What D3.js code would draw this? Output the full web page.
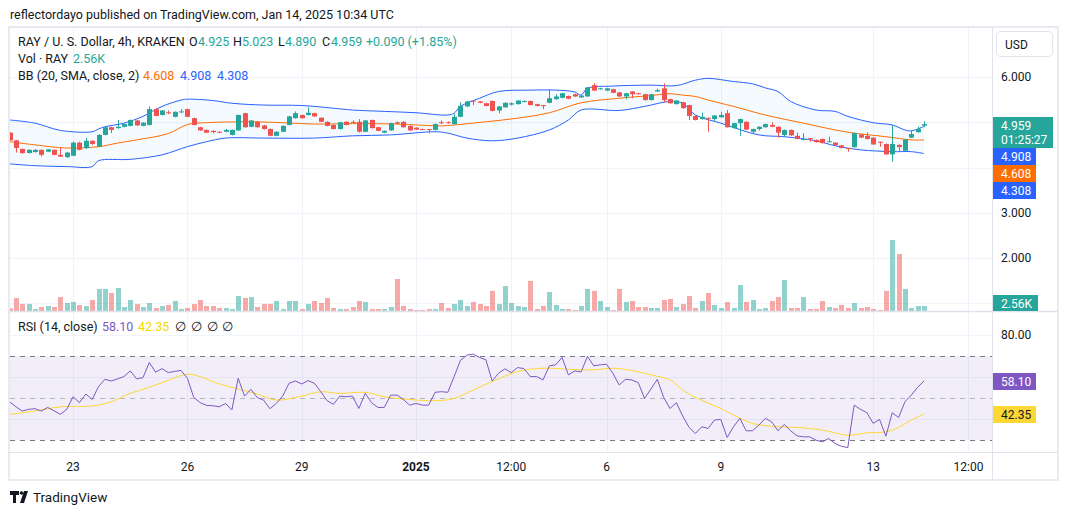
<!DOCTYPE html>
<html>
<head>
<meta charset="utf-8">
<script src="https://cdn.jsdelivr.net/npm/d3@7"></script>
<style>
  body { margin: 0; background: #fff; }
  svg { display: block; font-family: Roboto, "Noto Sans", sans-serif; }
</style>
</head>
<body>
<svg id="chart" width="1068" height="515"></svg>
<script>
// RAY / USD, 4h candles from Dec 21 08:00 UTC to Jan 14 08:00 UTC
var startTime = Date.UTC(2024, 11, 21, 8);

var opens  = [4.77,4.60,4.41,4.32,4.34,4.39,4.35,4.39,4.28,4.23,4.26,4.55,4.43,4.59,4.46,4.72,4.89,4.87,4.90,4.92,
              5.04,4.92,4.94,5.29,5.16,5.22,5.12,5.22,5.29,5.09,4.89,4.83,4.81,4.79,4.79,4.72,4.82,5.20,4.90,5.01,
              4.93,4.85,4.70,4.79,4.94,5.09,5.16,5.16,5.20,5.10,5.01,4.94,4.85,5.01,5.01,5.01,4.79,5.05,4.89,4.77,
              4.82,5.00,5.01,4.92,4.88,4.85,4.85,4.83,5.00,5.00,4.96,5.12,5.35,5.48,5.46,5.42,5.47,5.26,5.33,5.39,
              5.40,5.45,5.47,5.40,5.38,5.43,5.51,5.54,5.58,5.62,5.55,5.57,5.82,5.73,5.70,5.73,5.66,5.57,5.68,5.64,
              5.62,5.49,5.68,5.75,5.51,5.40,5.44,5.38,5.14,5.07,5.10,5.07,5.11,5.20,4.87,4.98,5.01,4.79,4.85,4.89,
              4.94,4.90,4.72,4.83,4.70,4.61,4.65,4.61,4.63,4.57,4.55,4.49,4.43,4.45,4.73,4.70,4.66,4.57,4.52,4.29,
              4.50,4.37,4.66,4.78,4.925];
var highs  = [4.78,4.61,4.42,4.40,4.41,4.40,4.41,4.40,4.45,4.34,4.57,4.57,4.65,4.60,4.74,4.91,4.90,5.05,4.97,5.06,
              5.05,5.00,5.35,5.31,5.27,5.26,5.24,5.29,5.30,5.10,4.90,4.84,4.82,4.80,4.85,4.84,5.17,5.21,5.05,5.02,
              4.94,4.86,4.80,4.93,5.14,5.24,5.17,5.33,5.21,5.11,5.02,4.95,5.01,5.02,5.04,5.07,5.05,5.06,4.90,4.82,
              4.99,5.02,5.02,4.93,4.89,4.86,4.85,4.97,5.04,5.02,5.18,5.44,5.47,5.49,5.47,5.43,5.48,5.36,5.44,5.44,
              5.49,5.48,5.48,5.41,5.38,5.73,5.62,5.65,5.59,5.63,5.60,5.78,5.86,5.76,5.76,5.74,5.67,5.65,5.69,5.65,
              5.63,5.63,5.74,5.86,5.52,5.49,5.45,5.39,5.15,5.21,5.10,5.16,5.23,5.27,4.99,5.08,5.02,4.86,4.91,4.97,
              5.00,4.91,4.84,4.84,4.77,4.76,4.65,4.62,4.64,4.68,4.56,4.50,4.43,4.77,4.74,4.78,4.67,4.57,4.53,4.94,
              4.51,4.63,4.82,4.90,5.023];
var lows   = [4.59,4.33,4.30,4.31,4.33,4.24,4.34,4.27,4.23,4.21,4.25,4.38,4.41,4.50,4.45,4.71,4.76,4.86,4.89,4.91,
              4.92,4.91,4.93,5.13,5.15,5.18,5.11,5.20,5.11,4.93,4.81,4.76,4.76,4.76,4.78,4.71,4.81,4.88,4.89,4.88,
              4.84,4.69,4.69,4.78,4.93,5.08,5.08,5.15,5.12,5.00,4.91,4.84,4.84,4.93,4.97,4.77,4.78,4.86,4.80,4.76,
              4.81,4.95,4.88,4.81,4.83,4.83,4.76,4.82,4.96,4.97,4.95,5.11,5.34,5.38,5.42,5.35,5.24,5.20,5.32,5.37,
              5.39,5.44,5.37,5.35,5.29,5.42,5.50,5.53,5.51,5.56,5.54,5.56,5.69,5.72,5.69,5.64,5.56,5.51,5.53,5.61,
              5.48,5.48,5.67,5.44,5.41,5.39,5.30,5.05,5.04,5.06,4.79,5.01,5.10,4.88,4.86,4.70,4.83,4.76,4.82,4.88,
              4.89,4.66,4.68,4.70,4.62,4.60,4.57,4.55,4.53,4.57,4.48,4.42,4.35,4.44,4.65,4.62,4.50,4.46,4.28,4.13,
              4.35,4.36,4.65,4.77,4.890];
var closes = [4.60,4.43,4.32,4.39,4.39,4.28,4.40,4.28,4.24,4.33,4.55,4.39,4.59,4.52,4.72,4.89,4.83,4.90,4.96,5.05,
              4.93,4.99,5.29,5.14,5.26,5.20,5.23,5.24,5.12,4.94,4.82,4.77,4.78,4.77,4.83,4.83,5.16,4.89,5.04,4.89,
              4.85,4.70,4.79,4.92,5.13,5.20,5.09,5.21,5.13,5.01,4.92,4.85,5.00,4.94,4.99,4.79,5.04,4.87,4.81,4.81,
              4.98,4.97,4.89,4.82,4.84,4.84,4.84,4.96,4.98,4.99,5.12,5.36,5.46,5.46,5.43,5.36,5.25,5.35,5.43,5.42,
              5.48,5.47,5.38,5.36,5.37,5.53,5.57,5.64,5.52,5.57,5.59,5.77,5.70,5.75,5.75,5.65,5.57,5.64,5.62,5.62,
              5.49,5.62,5.71,5.49,5.42,5.48,5.31,5.14,5.05,5.12,5.09,5.15,5.16,4.89,4.98,5.07,4.84,4.85,4.90,4.96,
              4.90,4.77,4.83,4.71,4.63,4.63,4.64,4.56,4.54,4.58,4.49,4.43,4.42,4.76,4.66,4.63,4.51,4.56,4.29,4.52,
              4.45,4.62,4.74,4.85,4.959];

// volume in thousands of RAY
var volumes = [1.37,6.67,3.59,3.59,1.03,2.05,2.57,2.05,7.18,4.10,4.62,3.08,2.57,5.64,11.3,11.3,9.23,11.8,2.05,5.64,
               3.59,2.05,4.10,1.54,2.57,3.08,5.13,1.03,1.54,3.59,5.64,2.57,2.57,1.54,1.54,1.03,7.70,6.67,7.18,2.05,
               3.59,3.59,5.13,1.03,5.13,5.13,1.03,3.59,5.13,4.10,6.67,1.54,1.03,1.03,2.05,5.13,4.62,1.03,1.03,1.03,
               2.05,16.4,2.57,1.03,0.51,0.51,1.03,1.03,4.10,1.54,3.59,5.64,2.57,4.62,3.59,2.57,10.3,3.59,12.8,4.10,
               2.57,2.05,15.4,1.03,2.57,9.75,3.08,1.03,1.03,0.51,2.57,11.3,10.3,5.13,2.05,0.51,11.3,4.62,5.13,2.05,
               2.05,1.54,1.54,5.64,6.16,2.05,3.59,7.70,1.54,5.13,9.23,3.08,1.54,4.62,1.54,13.3,4.62,5.64,1.03,1.54,
               5.13,7.18,15.9,1.54,1.54,7.18,1.03,1.03,5.13,2.05,1.54,3.08,1.54,4.10,1.54,2.05,1.03,0.51,10.3,36.4,
               29.2,11.3,1.54,2.57,2.56];

// Bollinger bands (20, 2), read at candle indices
var bbUpperAt = [0,4,8,13,14,15,18,21,24,27,28,32,35,40,46,51,54,59,64,69,70,71,74,77,82,86,89,90,91,95,101,105,108,110,114,117,119,121,123,127,130,132,136,139,141,142,144];
var bbUpper   = [5.05,4.98,4.82,4.79,4.85,4.90,4.98,5.13,5.35,5.49,5.51,5.48,5.42,5.38,5.37,5.31,5.27,5.24,5.21,5.16,5.20,5.35,5.53,5.68,5.71,5.71,5.67,5.60,5.75,5.80,5.82,5.81,5.93,5.97,5.90,5.85,5.76,5.68,5.46,5.27,5.24,5.13,4.99,4.94,4.83,4.81,4.908];
var bbMidAt   = [0,4,9,14,17,20,25,28,31,38,43,48,54,61,68,70,75,80,85,90,96,101,104,106,108,110,114,119,125,130,133,138,142,144];
var bbMid     = [4.57,4.50,4.43,4.46,4.54,4.61,4.75,4.95,4.99,5.01,4.99,4.96,4.97,4.96,4.92,4.94,5.01,5.09,5.21,5.43,5.53,5.59,5.63,5.60,5.57,5.49,5.35,5.16,4.98,4.83,4.76,4.68,4.61,4.608];
var bbLowerAt = [0,4,9,13,14,19,24,28,31,34,40,48,54,60,67,69,72,76,80,85,88,90,96,100,104,106,108,112,118,122,127,130,134,139,142,144];
var bbLower   = [4.08,4.04,4.02,4.02,4.15,4.18,4.28,4.46,4.57,4.65,4.65,4.65,4.70,4.72,4.79,4.76,4.65,4.59,4.65,4.83,5.05,5.27,5.26,5.35,5.46,5.42,5.16,4.98,4.72,4.68,4.59,4.48,4.39,4.35,4.35,4.308];

// RSI (14) per candle and its moving average
var rsiValues = [48.2,45.8,43.8,44.6,44.9,43.8,45.5,43.9,42.2,44.6,50.6,47.8,51.9,49.3,55.4,58.9,58.1,59.1,60.2,62.9,
                 59.1,59.7,66.9,62.3,64.0,62.1,62.7,63.1,59.4,50.3,47.8,46.5,46.3,45.8,47.4,44.3,59.4,50.9,54.1,50.2,
                 49.0,44.9,47.4,50.9,57.0,58.1,56.7,58.3,57.0,53.0,48.7,47.0,50.9,50.6,50.9,45.0,52.2,47.8,45.5,45.5,
                 51.3,51.4,49.3,46.6,47.4,46.6,46.6,52.7,53.0,52.7,60.2,67.9,70.4,70.9,69.3,68.2,58.1,61.8,63.9,62.1,
                 64.5,64.0,60.2,60.2,58.6,65.3,65.8,69.3,61.0,62.9,62.4,69.8,65.3,65.8,66.1,61.8,56.2,58.9,58.6,57.3,
                 49.8,54.3,58.9,50.3,45.0,47.8,41.4,36.0,33.1,36.3,35.5,39.5,39.8,31.2,36.3,40.3,34.4,34.4,37.1,40.3,
                 38.7,34.4,37.4,34.4,32.0,31.5,31.5,29.9,29.1,30.7,28.3,27.0,26.4,46.6,44.6,43.0,37.9,39.8,31.8,43.0,
                 40.7,48.2,51.4,55.1,58.10];
var rsiMaAt = [0,4,8,13,16,19,21,24,28,30,33,36,39,42,46,49,52,56,59,63,67,70,73,76,80,84,88,92,95,98,101,104,106,108,112,114,117,121,124,128,132,135,138,140,142,144];
var rsiMa   = [42.2,43.8,45.8,46.2,48.2,52.2,54.1,57.3,61.3,60.2,56.7,54.3,51.9,49.0,50.9,53.0,52.2,52.7,50.6,49.3,48.7,49.8,53.8,57.8,62.6,64.2,63.7,63.4,64.2,63.1,61.0,58.6,53.8,50.3,45.0,41.9,37.9,36.3,36.0,34.7,32.3,33.4,33.9,36.0,39.5,42.35];

var priceTicks = [1, 2, 3, 4, 5, 6];
var rsiTicks = [80, 60, 40];
var rsiDashed = [70, 50, 30];
var tickDates = ['2024-12-23T00:00Z','2024-12-26T00:00Z','2024-12-29T00:00Z','2025-01-01T00:00Z','2025-01-03T12:00Z',
                 '2025-01-06T00:00Z','2025-01-09T00:00Z','2025-01-13T00:00Z','2025-01-15T12:00Z'];
var tickLabels = ['23','26','29','2025','12:00','6','9','13','12:00'];

var green = '#26a69a', red = '#ef5350', blue = '#2962ff', orange = '#ff6d00';
var purple = '#7e57c2', yellow = '#fdd835', textCol = '#131722', grid = '#f0f3fa', border = '#e0e3eb';

var svg = d3.select('#chart');
var plotL = 10, plotR = 992;

var times = closes.map(function(c, i){ return new Date(startTime + i * 4 * 3600 * 1000); });
var x = d3.scaleTime().domain([times[0], times[times.length - 1]]).range([9.6, 924]);
var y = d3.scaleLinear().domain([2, 6]).range([258, 77]);
var yVol = d3.scaleLinear().domain([0, d3.max(volumes)]).range([311, 240]);
var yRsi = d3.scaleLinear().domain([30, 70]).range([440, 356]);

svg.append('rect').attr('width', 1068).attr('height', 515).attr('fill', '#fff');

svg.append('defs').append('clipPath').attr('id', 'plotClip')
  .append('rect').attr('x', plotL).attr('y', 28).attr('width', plotR - plotL).attr('height', 424);

// grid
var gridG = svg.append('g').attr('clip-path', 'url(#plotClip)');
tickDates.forEach(function(d){
  var px = Math.round(x(new Date(d))) + 0.5;
  gridG.append('line').attr('x1', px).attr('x2', px).attr('y1', 28).attr('y2', 452)
    .attr('stroke', grid).attr('stroke-width', 1);
});
priceTicks.forEach(function(p){
  var py = Math.round(y(p)) + 0.5;
  gridG.append('line').attr('x1', plotL).attr('x2', plotR).attr('y1', py).attr('y2', py)
    .attr('stroke', grid);
});
rsiTicks.forEach(function(v){
  var py = Math.round(yRsi(v)) + 0.5;
  gridG.append('line').attr('x1', plotL).attr('x2', plotR).attr('y1', py).attr('y2', py)
    .attr('stroke', grid);
});

// RSI band
gridG.append('rect').attr('x', plotL).attr('width', plotR - plotL)
  .attr('y', yRsi(70)).attr('height', yRsi(30) - yRsi(70))
  .attr('fill', 'rgba(126,87,194,0.1)');
rsiDashed.forEach(function(v){
  var py = Math.round(yRsi(v)) + 0.5;
  gridG.append('line').attr('x1', plotL).attr('x2', plotR).attr('y1', py).attr('y2', py)
    .attr('stroke', v == 50 ? 'rgba(120,123,134,0.5)' : '#787b86')
    .attr('stroke-dasharray', '5,5');
});

var plot = svg.append('g').attr('clip-path', 'url(#plotClip)');

// Bollinger fill + lines
function pts(at, vals){ return at.map(function(i, k){ return [x(times[i]), y(vals[k])]; }); }
var bbLine = d3.line().curve(d3.curveCatmullRom.alpha(0.5));
var upPts = pts(bbUpperAt, bbUpper), loPts = pts(bbLowerAt, bbLower), midPts = pts(bbMidAt, bbMid);
var fillPath = bbLine(upPts) + 'L' + bbLine(loPts.slice().reverse()).slice(1) + 'Z';
plot.append('path').attr('d', fillPath).attr('fill', 'rgba(33,150,243,0.05)');
plot.append('path').attr('d', bbLine(upPts)).attr('fill', 'none').attr('stroke', blue).attr('stroke-width', 1);
plot.append('path').attr('d', bbLine(loPts)).attr('fill', 'none').attr('stroke', blue).attr('stroke-width', 1);
plot.append('path').attr('d', bbLine(midPts)).attr('fill', 'none').attr('stroke', orange).attr('stroke-width', 1);

// volume
plot.selectAll('rect.vol').data(volumes).enter().append('rect')
  .attr('class', 'vol')
  .attr('x', function(d, i){ return Math.round(x(times[i])) - 2; })
  .attr('width', 5)
  .attr('y', function(d){ return yVol(d); })
  .attr('height', function(d){ return 311 - yVol(d); })
  .attr('fill', function(d, i){ return closes[i] >= opens[i] ? 'rgba(38,166,154,0.5)' : 'rgba(239,83,80,0.5)'; });

// candles
var candles = plot.selectAll('g.candle').data(closes).enter().append('g').attr('class', 'candle');
candles.append('line')
  .attr('x1', function(d, i){ return Math.round(x(times[i])) + 0.5; })
  .attr('x2', function(d, i){ return Math.round(x(times[i])) + 0.5; })
  .attr('y1', function(d, i){ return y(highs[i]); })
  .attr('y2', function(d, i){ return y(lows[i]); })
  .attr('stroke', function(d, i){ return d >= opens[i] ? green : red; });
candles.append('rect')
  .attr('x', function(d, i){ return Math.round(x(times[i])) - 2; })
  .attr('width', 5)
  .attr('y', function(d, i){ return y(Math.max(d, opens[i])); })
  .attr('height', function(d, i){ return Math.max(1, Math.abs(y(d) - y(opens[i]))); })
  .attr('fill', function(d, i){ return d >= opens[i] ? green : red; });

// RSI lines
var rsiLine = d3.line().x(function(d, i){ return x(times[i]); }).y(function(d){ return yRsi(d); });
var maLine = d3.line().curve(d3.curveCatmullRom.alpha(0.5));
plot.append('path').attr('d', maLine(rsiMaAt.map(function(i, k){ return [x(times[i]), yRsi(rsiMa[k])]; })))
  .attr('fill', 'none').attr('stroke', yellow).attr('stroke-width', 1);
plot.append('path').attr('d', rsiLine(rsiValues)).attr('fill', 'none').attr('stroke', purple).attr('stroke-width', 1);

// frame and separators
svg.append('line').attr('x1', 992.5).attr('x2', 992.5).attr('y1', 28).attr('y2', 480).attr('stroke', border);
svg.append('line').attr('x1', 9).attr('x2', 1058).attr('y1', 311.5).attr('y2', 311.5).attr('stroke', border).attr('stroke-width', 1.5);
svg.append('line').attr('x1', 9).attr('x2', 1058).attr('y1', 452.5).attr('y2', 452.5).attr('stroke', border);
svg.append('rect').attr('x', 9).attr('y', 27).attr('width', 1049).attr('height', 453)
  .attr('fill', 'none').attr('stroke', border).attr('stroke-width', 1.5);

// price tags on the right axis: [top, height, width, bg, fg, lines]
var last = closes.length - 1;
var tags = [
  [117, 31, 60, green, '#fff', [closes[last].toFixed(3), '01:25:27']],
  [148, 17, 43, blue, '#fff', [bbUpper[bbUpper.length - 1].toFixed(3)]],
  [165, 17, 43, orange, '#fff', [bbMid[bbMid.length - 1].toFixed(3)]],
  [182, 17, 43, blue, '#fff', [bbLower[bbLower.length - 1].toFixed(3)]],
  [295, 16, 45, green, '#fff', [volumes[last] + 'K']],
  [373, 17, 43, purple, '#fff', [rsiValues[last].toFixed(2)]],
  [406, 17, 43, yellow, textCol, [rsiMa[rsiMa.length - 1].toFixed(2)]]
];
function hiddenByTag(py){
  return tags.some(function(t){ return py > t[0] - 6 && py < t[0] + t[1] + 6; });
}

// axis labels (labels under a tag are hidden, as in the original)
var axisG = svg.append('g').attr('font-size', 12).attr('fill', textCol);
priceTicks.forEach(function(p){
  if (hiddenByTag(y(p))) return;
  axisG.append('text').attr('x', 1001).attr('y', y(p)).attr('dy', '0.35em').text(d3.format('.3f')(p));
});
rsiTicks.forEach(function(v){
  if (hiddenByTag(yRsi(v))) return;
  axisG.append('text').attr('x', 1001).attr('y', yRsi(v)).attr('dy', '0.35em').text(d3.format('.2f')(v));
});
tickDates.forEach(function(d, k){
  axisG.append('text').attr('x', x(new Date(d))).attr('y', 467).attr('dy', '0.35em')
    .attr('text-anchor', 'middle').attr('font-weight', tickLabels[k] == '2025' ? 'bold' : 'normal')
    .text(tickLabels[k]);
});

tags.forEach(function(t){
  svg.append('rect').attr('x', 993).attr('y', t[0]).attr('width', t[2]).attr('height', t[1]).attr('fill', t[3]);
  t[5].forEach(function(s, k){
    svg.append('text').attr('x', 1001).attr('y', t[0] + 9 + k * 14).attr('dy', '0.35em')
      .attr('font-size', 12).attr('fill', t[4]).text(s);
  });
});

// USD button
svg.append('rect').attr('x', 996.5).attr('y', 31.5).attr('width', 56).attr('height', 25).attr('rx', 4)
  .attr('fill', '#fff').attr('stroke', border);
svg.append('text').attr('x', 1005).attr('y', 45).attr('dy', '0.35em').attr('font-size', 12).attr('fill', textCol).text('USD');

// legends
function legend(yy, parts){
  parts.forEach(function(p){
    svg.append('text').attr('x', p[0]).attr('y', yy).attr('dy', '0.35em').attr('font-size', 12.5)
      .attr('fill', p[2] || textCol).text(p[1]);
  });
}
svg.append('text').attr('x', 10).attr('y', 15).attr('dy', '0.35em').attr('font-size', 12.5).attr('fill', textCol)
  .text('reflectordayo published on TradingView.com, Jan 14, 2025 10:34 UTC');
legend(42, [[18, 'RAY / U. S. Dollar, 4h, KRAKEN'], [189, 'O'], [198, opens[last].toFixed(3), green],
            [233, 'H'], [242, highs[last].toFixed(3), green], [278, 'L'], [285, lows[last].toFixed(3), green],
            [322, 'C'], [331, closes[last].toFixed(3), green], [366, '+0.090 (+1.85%)', green]]);
legend(59, [[18, 'Vol · RAY'], [73, volumes[last] + 'K', green]]);
legend(76, [[18, 'BB (20, SMA, close, 2)'], [143, bbMid[bbMid.length - 1].toFixed(3), orange],
            [180, bbUpper[bbUpper.length - 1].toFixed(3), blue], [217, bbLower[bbLower.length - 1].toFixed(3), blue]]);
legend(327, [[18, 'RSI (14, close)'], [102, rsiValues[last].toFixed(2), purple], [138, rsiMa[rsiMa.length - 1].toFixed(2), '#f5d800'],
             [175, '∅'], [191, '∅'], [207, '∅'], [222, '∅']]);

// TradingView logo
var logo = svg.append('g').attr('fill', textCol);
logo.append('path').attr('d', 'M10 491h9v4h-3v8h-3v-8h-3z');
logo.append('circle').attr('cx', 21.5).attr('cy', 493).attr('r', 1.8);
logo.append('path').attr('d', 'M24 491h4l-4 12h-4z');
svg.append('text').attr('x', 33).attr('y', 497).attr('dy', '0.35em').attr('font-size', 13.5).attr('fill', textCol)
  .text('TradingView');
</script>
</body>
</html>
